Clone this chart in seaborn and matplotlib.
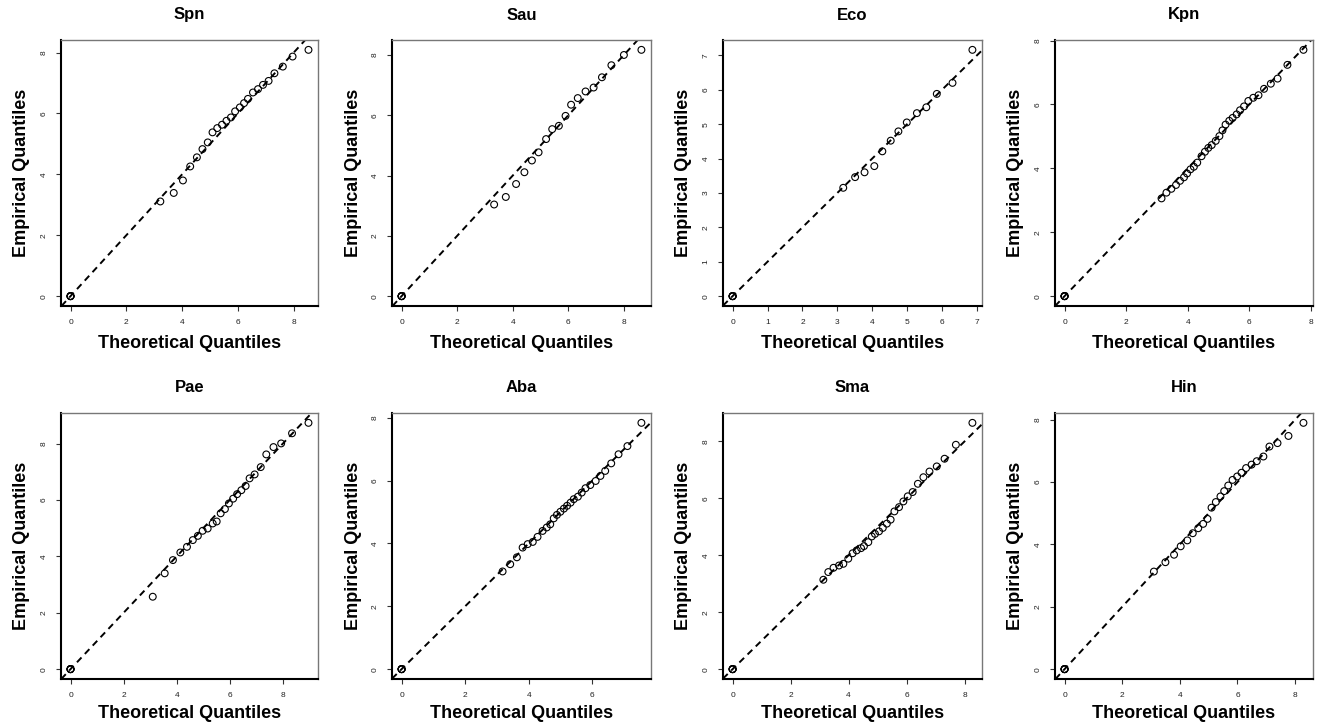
import numpy as np
import pandas as pd
import matplotlib
matplotlib.use("Agg")
import matplotlib.pyplot as plt
import seaborn as sns
from matplotlib.ticker import MultipleLocator

sns.set_style("white")
plt.rcParams['font.family'] = ['Liberation Sans', 'DejaVu Sans']
plt.rcParams['text.color'] = 'black'
plt.rcParams['axes.labelcolor'] = 'black'

panels = ["Spn", "Sau", "Eco", "Kpn", "Pae", "Aba", "Sma", "Hin"]

n_zero = 5

spn_x = [3.22, 3.70, 4.03, 4.29, 4.53, 4.73, 4.92, 5.09, 5.26, 5.43, 5.59, 5.75, 5.90, 6.07,
         6.22, 6.36, 6.54, 6.72, 6.90, 7.10, 7.31, 7.61, 7.96, 8.53]
spn_y = [3.11, 3.39, 3.80, 4.26, 4.56, 4.83, 5.05, 5.38, 5.52, 5.63, 5.76, 5.87, 6.07, 6.20,
         6.34, 6.48, 6.69, 6.80, 6.94, 7.07, 7.32, 7.54, 7.87, 8.09]

sau_x = [3.33, 3.75, 4.12, 4.42, 4.69, 4.93, 5.20, 5.42, 5.66, 5.90, 6.10, 6.34, 6.62, 6.91,
         7.21, 7.55, 8.00, 8.63]
sau_y = [3.04, 3.29, 3.72, 4.11, 4.50, 4.77, 5.21, 5.54, 5.65, 5.98, 6.35, 6.57, 6.79, 6.92,
         7.26, 7.66, 8.00, 8.17]

eco_x = [3.17, 3.51, 3.78, 4.06, 4.29, 4.53, 4.75, 4.99, 5.28, 5.55, 5.85, 6.30, 6.87]
eco_y = [3.15, 3.46, 3.60, 3.78, 4.21, 4.52, 4.79, 5.05, 5.32, 5.49, 5.88, 6.20, 7.16]

kpn_x = [3.15, 3.31, 3.47, 3.62, 3.75, 3.88, 3.98, 4.09, 4.20, 4.31, 4.45, 4.56, 4.67, 4.78,
         4.91, 5.03, 5.13, 5.23, 5.35, 5.46, 5.59, 5.70, 5.83, 5.97, 6.13, 6.30, 6.48, 6.70,
         6.92, 7.24, 7.76]
kpn_y = [3.06, 3.24, 3.36, 3.48, 3.61, 3.72, 3.84, 3.97, 4.05, 4.18, 4.38, 4.52, 4.64, 4.73,
         4.86, 5.01, 5.19, 5.37, 5.49, 5.58, 5.69, 5.82, 5.94, 6.11, 6.21, 6.29, 6.49, 6.65,
         6.81, 7.24, 7.71]

pae_x = [3.10, 3.55, 3.86, 4.14, 4.39, 4.61, 4.80, 4.98, 5.17, 5.36, 5.51, 5.66, 5.82, 5.97,
         6.13, 6.28, 6.44, 6.60, 6.75, 6.94, 7.17, 7.38, 7.65, 7.94, 8.35, 8.97]
pae_y = [2.57, 3.40, 3.87, 4.14, 4.34, 4.58, 4.73, 4.91, 4.99, 5.17, 5.24, 5.53, 5.68, 5.88,
         6.05, 6.21, 6.35, 6.50, 6.77, 6.91, 7.17, 7.62, 7.88, 8.01, 8.37, 8.74]

aba_x = [3.18, 3.42, 3.63, 3.81, 3.97, 4.13, 4.28, 4.44, 4.57, 4.68, 4.79, 4.89, 5.00, 5.11,
         5.21, 5.32, 5.42, 5.55, 5.67, 5.79, 5.94, 6.11, 6.26, 6.41, 6.60, 6.83, 7.11, 7.55]
aba_y = [3.11, 3.34, 3.56, 3.87, 3.98, 4.05, 4.21, 4.40, 4.51, 4.61, 4.80, 4.91, 5.01, 5.11,
         5.20, 5.30, 5.41, 5.49, 5.62, 5.76, 5.86, 5.99, 6.15, 6.31, 6.55, 6.84, 7.10, 7.84]

sma_x = [3.13, 3.30, 3.48, 3.67, 3.82, 3.99, 4.14, 4.28, 4.43, 4.53, 4.68, 4.80, 4.91, 5.05,
         5.18, 5.32, 5.45, 5.58, 5.74, 5.89, 6.04, 6.21, 6.39, 6.58, 6.79, 7.04, 7.31, 7.70, 8.27]
sma_y = [3.14, 3.41, 3.56, 3.64, 3.70, 3.88, 4.07, 4.17, 4.25, 4.32, 4.46, 4.66, 4.75, 4.84,
         4.96, 5.11, 5.25, 5.54, 5.69, 5.89, 6.07, 6.22, 6.51, 6.74, 6.94, 7.12, 7.39, 7.88, 8.65]

hin_x = [3.10, 3.50, 3.80, 4.03, 4.26, 4.45, 4.64, 4.81, 4.96, 5.10, 5.25, 5.41, 5.54, 5.68,
         5.83, 5.99, 6.14, 6.30, 6.49, 6.67, 6.90, 7.11, 7.39, 7.77, 8.29]
hin_y = [3.13, 3.43, 3.67, 3.94, 4.13, 4.36, 4.52, 4.66, 4.82, 5.18, 5.36, 5.54, 5.71, 5.89,
         6.07, 6.18, 6.30, 6.45, 6.56, 6.67, 6.82, 7.14, 7.25, 7.48, 7.90]

theoretical = [spn_x, sau_x, eco_x, kpn_x, pae_x, aba_x, sma_x, hin_x]
empirical = [spn_y, sau_y, eco_y, kpn_y, pae_y, aba_y, sma_y, hin_y]
tick_steps = [2, 2, 1, 2, 2, 2, 2, 2]

W, H = 1317, 728
fig = plt.figure(figsize=(W / 100, H / 100), dpi=100)

lefts = [61, 392, 723, 1055]
widths = [257, 259, 259, 258]
tops = [40, 413]
ax_h = 266

for i, name in enumerate(panels):
    r, c = divmod(i, 4)
    l, w, t = lefts[c], widths[c], tops[r]
    ax = fig.add_axes([l / W, 1 - (t + ax_h) / H, w / W, ax_h / H])
    xs = np.array([0.0] * n_zero + theoretical[i])
    ys = np.array([0.0] * n_zero + empirical[i])
    df = pd.DataFrame({"Theoretical": xs, "Empirical": ys})
    sns.scatterplot(data=df, x="Theoretical", y="Empirical", ax=ax, marker="o",
                    s=24, color="black", linewidth=0.8, zorder=3)
    coll = ax.collections[0]
    coll.set_facecolor("none")
    coll.set_edgecolor("black")
    ax.axline((0, 0), slope=1, color="black", lw=1.4, ls=(0, (3.4, 2.5)), zorder=2)

    xr = xs.max() - xs.min()
    yr = ys.max() - ys.min()
    ax.set_xlim(xs.min() - 0.04 * xr, xs.max() + 0.04 * xr)
    ax.set_ylim(ys.min() - 0.04 * yr, ys.max() + 0.04 * yr)
    ax.xaxis.set_major_locator(MultipleLocator(tick_steps[i]))
    ax.yaxis.set_major_locator(MultipleLocator(tick_steps[i]))

    ax.tick_params(axis="both", which="major", direction="out", length=3.6, width=0.8,
                   color="#333333", labelsize=6, labelcolor="#222222", pad=6,
                   left=True, bottom=True)
    for lab in ax.get_yticklabels():
        lab.set_rotation(90)
        lab.set_va("center")

    for side in ["left", "bottom"]:
        ax.spines[side].set_color("black")
        ax.spines[side].set_linewidth(1.5)
    for side in ["top", "right"]:
        ax.spines[side].set_color("#777777")
        ax.spines[side].set_linewidth(1.0)

    ax.set_title(name, fontsize=12, fontweight="bold", color="black",
                 y=1 + 25 / ax_h, va="center", pad=0)
    ax.set_xlabel("Theoretical Quantiles", fontsize=13, fontweight="bold", color="black")
    ax.set_ylabel("Empirical Quantiles", fontsize=13, fontweight="bold", color="black")
    xoff = 37 if r == 0 else 35
    ax.xaxis.set_label_coords(0.5, -xoff / ax_h)
    ax.xaxis.label.set_va("center")
    ax.yaxis.set_label_coords(-39 / w, 0.5)
    ax.yaxis.label.set_va("center")

fig.savefig("out.png", dpi=100)
